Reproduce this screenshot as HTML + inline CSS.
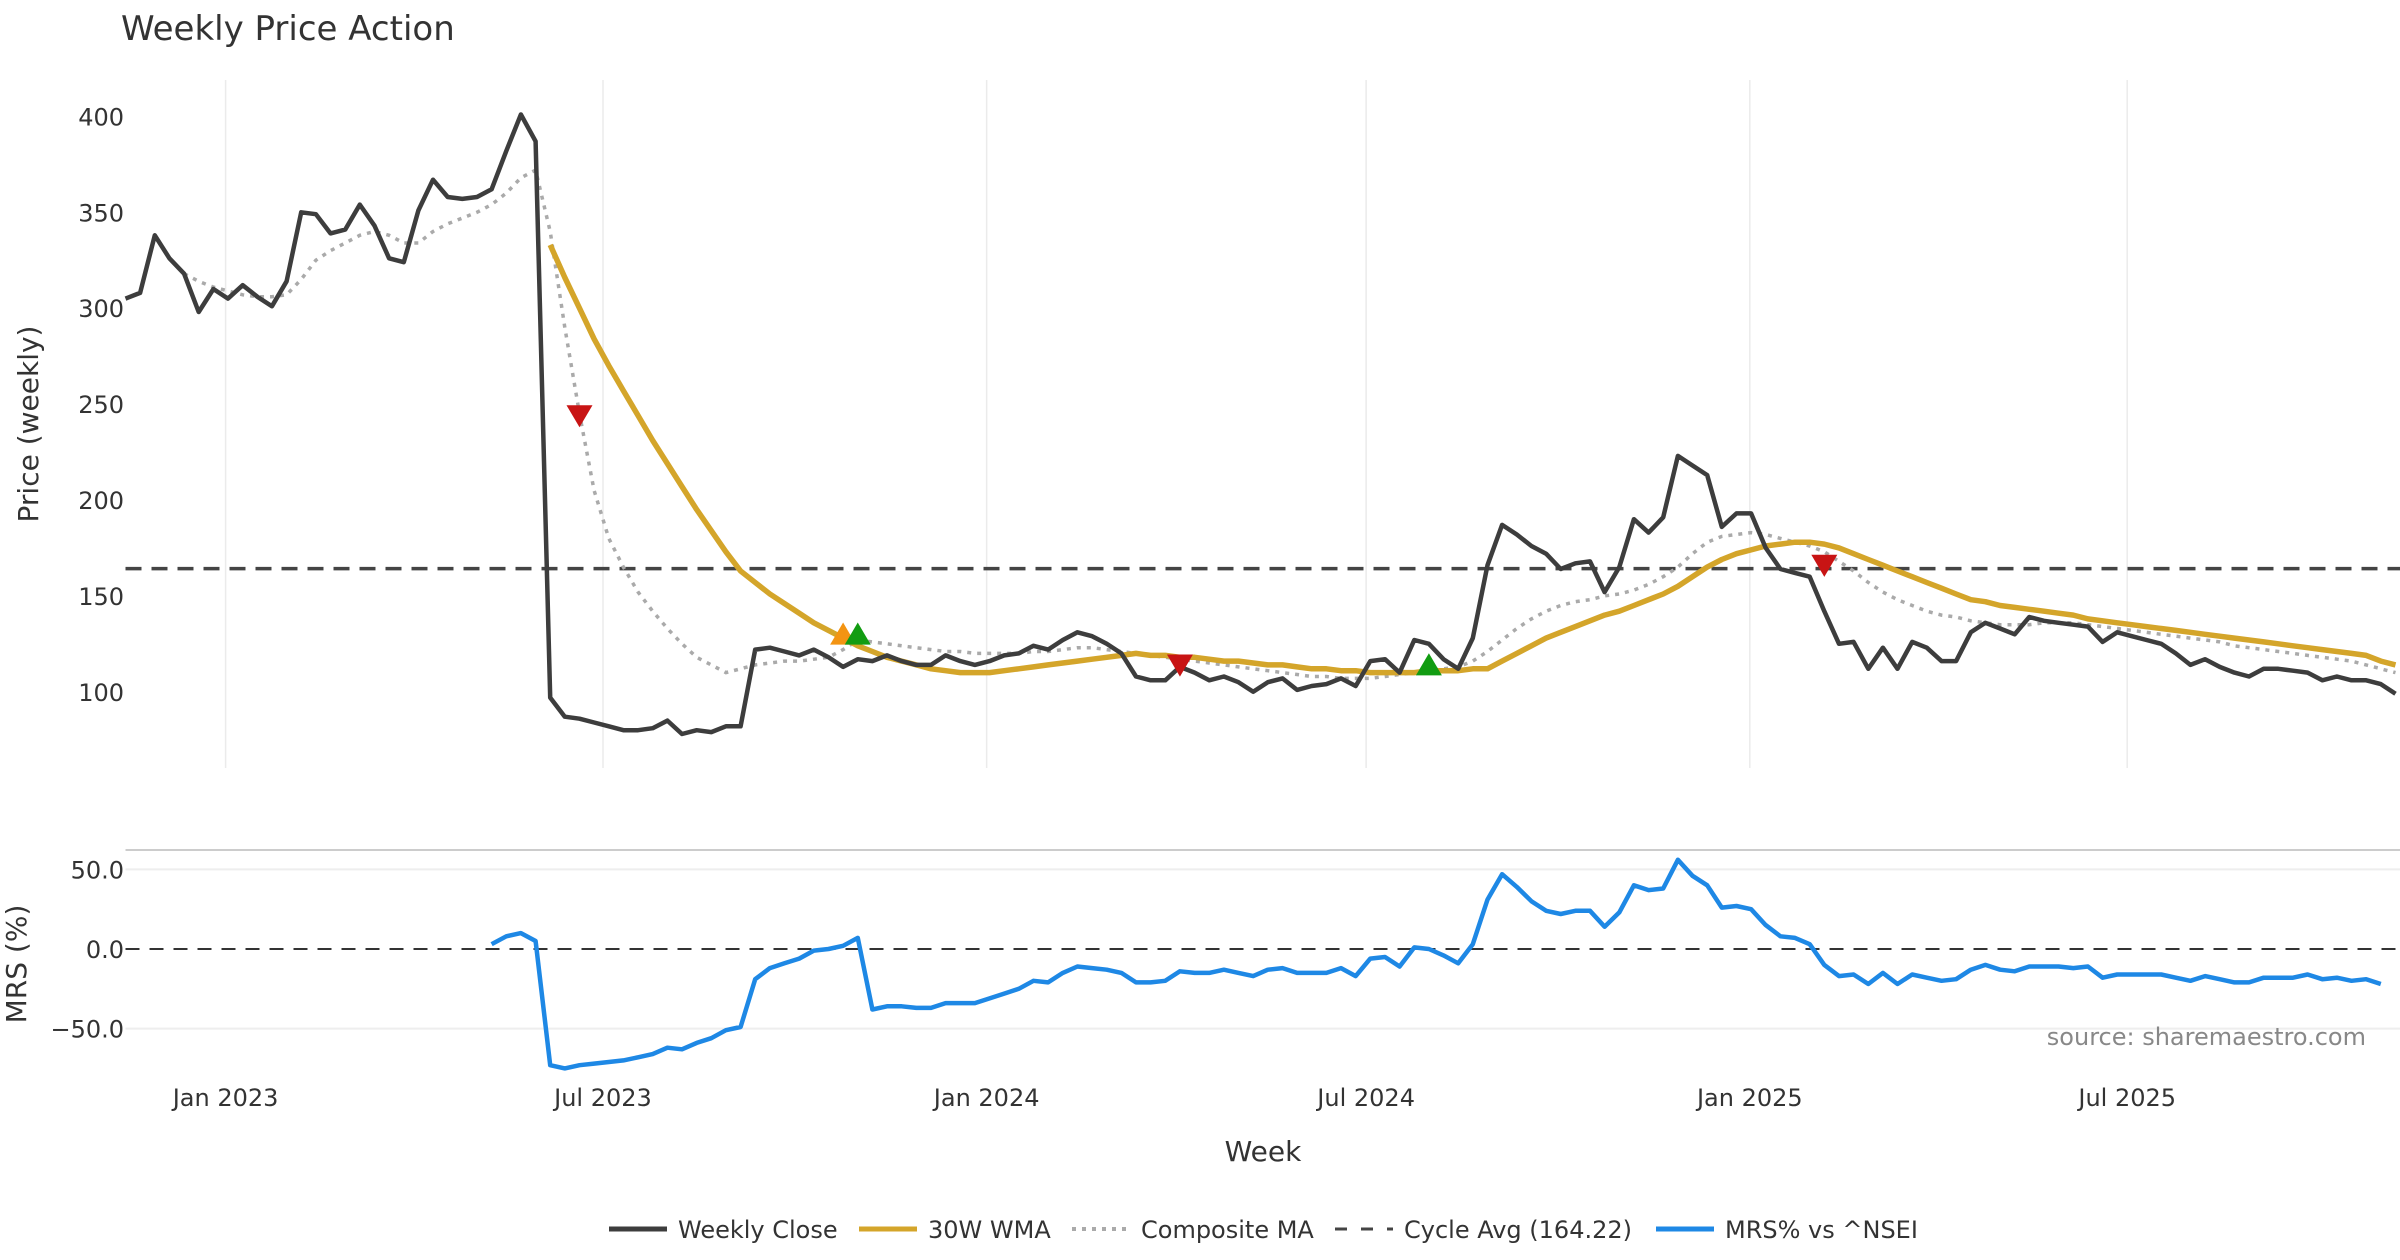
<!DOCTYPE html>
<html><head><meta charset="utf-8"><style>
html,body{margin:0;padding:0;background:#fff;}
svg{display:block;font-family:"DejaVu Sans","Liberation Sans",sans-serif;}
</style></head><body>
<svg id="chart" width="2400" height="1260" viewBox="0 0 2400 1260" xmlns="http://www.w3.org/2000/svg">
<text x="121" y="40" font-size="34" fill="#333">Weekly Price Action</text>
<g id="grid"></g>
<g id="marks"></g>
<g id="axes"></g>
<text transform="translate(38,424) rotate(-90)" text-anchor="middle" font-size="28" fill="#333">Price (weekly)</text>
<text transform="translate(26,964) rotate(-90)" text-anchor="middle" font-size="28" fill="#333">MRS (%)</text>
<text x="1263" y="1161" text-anchor="middle" font-size="28" fill="#333">Week</text>
<text x="2366" y="1045" text-anchor="end" font-size="24" fill="#888">source: sharemaestro.com</text>
<g id="legend"></g>
</svg>
<script>
const startDate = "2022-11-14";
const closeVals = [305,308,338,326,318,298,310,305,312,306,
301,314,350,349,339,341,354,343,326,324,
351,367,358,357,358,362,382,401,387,97,
87,86,84,82,80,80,81,85,78,80,
79,82,82,122,123,121,119,122,118,113,
117,116,119,116,114,114,119,116,114,116,
119,120,124,122,127,131,129,125,120,108,
106,106,113,110,106,108,105,100,105,107,
101,103,104,107,103,116,117,110,127,125,
117,112,128,166,187,182,176,172,164,167,
168,152,165,190,183,191,223,218,213,186,
193,193,175,164,162,160,142,125,126,112,
123,112,126,123,116,116,131,136,133,130,
139,137,136,135,134,126,131,129,127,125,
120,114,117,113,110,108,112,112,111,110,
106,108,106,106,104,99];
const wmaVals = [null,null,null,null,null,null,null,null,null,null,
null,null,null,null,null,null,null,null,null,null,
null,null,null,null,null,null,null,null,null,333,
316,300,284,270,257,244,231,219,207,195,
184,173,163,157,151,146,141,136,132,128,
124,121,118,116,114,112,111,110,110,110,
111,112,113,114,115,116,117,118,119,120,
119,119,118,118,117,116,116,115,114,114,
113,112,112,111,111,110,110,110,110,111,
111,111,112,112,116,120,124,128,131,134,
137,140,142,145,148,151,155,160,165,169,
172,174,176,177,178,178,177,175,172,169,
166,163,160,157,154,151,148,147,145,144,
143,142,141,140,138,137,136,135,134,133,
132,131,130,129,128,127,126,125,124,123,
122,121,120,119,116,114];
const compVals = [null,null,null,null,318,314,311,309,307,306,
306,307,315,325,330,334,338,340,338,334,
334,340,344,347,350,354,360,368,372,340,
290,245,205,180,165,152,142,133,125,118,
114,110,112,114,115,116,116,117,118,122,
127,126,125,124,123,122,121,121,120,120,
120,120,121,121,122,123,123,122,121,120,
119,118,117,116,115,114,113,112,111,110,
109,108,108,107,107,107,108,109,110,111,
112,113,116,121,127,133,138,142,145,147,
148,150,151,153,156,160,165,172,178,181,
182,183,182,180,178,176,173,168,163,157,
152,148,145,142,140,139,137,136,135,135,
135,136,136,136,135,134,133,132,131,130,
129,128,127,126,124,123,122,121,120,119,
118,117,116,114,112,110];
const mrsVals = [null,null,null,null,null,null,null,null,null,null,
null,null,null,null,null,null,null,null,null,null,
null,null,null,null,null,
3,8,10,5,-73,-75,-73,-72,-71,-70,
-68,-66,-62,-63,-59,-56,-51,-49,-19,-12,
-9,-6,-1,0,2,7,-38,-36,-36,-37,
-37,-34,-34,-34,-31,-28,-25,-20,-21,-15,
-11,-12,-13,-15,-21,-21,-20,-14,-15,-15,
-13,-15,-17,-13,-12,-15,-15,-15,-12,-17,
-6,-5,-11,1,0,-4,-9,3,31,47,
39,30,24,22,24,24,14,23,40,37,
38,56,46,40,26,27,25,15,8,7,
3,-10,-17,-16,-22,-15,-22,-16,-18,-20,
-19,-13,-10,-13,-14,-11,-11,-11,-12,-11,
-18,-16,-16,-16,-16,-18,-20,-17,-19,-21,
-21,-18,-18,-18,-16,-19,-18,-20,-19,-22];
const cycleAvg = 164.22;
const signalIdx = [31,49,50,72,89,116];
const signalVals = [244,130,130,114,114,166];
const signalTypes = ["sell","watch","buy","sell","buy","sell"];
const priceTicks = [100,150,200,250,300,350,400];
const mrsTicks = [-50,0,50];
const mrsTickLabels = ["\u221250.0","0.0","50.0"];
const xTickDates = ["2023-01-01","2023-07-01","2024-01-01","2024-07-01","2025-01-01","2025-07-01"];
const xTickLabels = ["Jan 2023","Jul 2023","Jan 2024","Jul 2024","Jan 2025","Jul 2025"];

const NS="http://www.w3.org/2000/svg";
const X0=125.5, PXDAY=2.0851, PXWEEK=14.645, L=125.5, R=2400;
const t0=Date.parse(startDate+"T00:00:00Z");
function xDate(s){return X0+(Date.parse(s+"T00:00:00Z")-t0)/86400000*PXDAY;}
function xIdx(i){return X0+i*PXWEEK;}
function yP(v){return 691.8-(v-100)*1.918;}
function yM(v){return 949-v*1.592;}
function mk(tag,attrs,parent){const e=document.createElementNS(NS,tag);for(const k in attrs)e.setAttribute(k,attrs[k]);parent.appendChild(e);return e;}
const grid=document.getElementById('grid'),marks=document.getElementById('marks'),axes=document.getElementById('axes');

xTickDates.forEach((d,k)=>{const x=xDate(d);
 const g=mk('line',{x1:x,x2:x,y1:80,y2:768,stroke:'#ebebeb','stroke-width':1.5},grid);
 
 
 const t=mk('text',{x:x,y:1106,'text-anchor':'middle','font-size':24,fill:'#333'},axes);
 t.textContent=xTickLabels[k];
 
 
});
priceTicks.forEach(v=>{const t=mk('text',{x:124,y:yP(v)+9,'text-anchor':'end','font-size':24,fill:'#333'},axes);
 t.textContent=v;
 
 
});
const bl=mk('line',{x1:L,x2:R,y1:850,y2:850,stroke:'#ccc','stroke-width':2},grid);


mrsTicks.forEach((v,k)=>{
 const ln=mk('line',{x1:L,x2:R,y1:yM(v),y2:yM(v),stroke:v===0?'#333':'#eeeeee','stroke-width':2,'stroke-dasharray':v===0?'14 10':'none'},grid);
 
 
 const t=mk('text',{x:124,y:yM(v)+9,'text-anchor':'end','font-size':24,fill:'#333'},axes);
 t.textContent=mrsTickLabels[k];
 
 
});
const ca=mk('line',{x1:L,x2:R,y1:yP(cycleAvg),y2:yP(cycleAvg),stroke:'#444','stroke-width':3.5,'stroke-dasharray':'16 10'},marks);



function path(vals,yf){let d='',pen=false;vals.forEach((v,i)=>{if(v===null){pen=false;return;}d+=(pen?'L':'M')+xIdx(i).toFixed(1)+','+yf(v).toFixed(1);pen=true;});return d;}
const comp=mk('path',{d:path(compVals,yP),fill:'none',stroke:'#aaaaaa','stroke-width':3.5,'stroke-dasharray':'4 6'},marks);


const wma=mk('path',{d:path(wmaVals,yP),fill:'none',stroke:'#d4a52a','stroke-width':5.5,'stroke-linejoin':'round'},marks);


const cl=mk('path',{d:path(closeVals,yP),fill:'none',stroke:'#3d3d3d','stroke-width':4.5,'stroke-linejoin':'round'},marks);


const mr=mk('path',{d:path(mrsVals,yM),fill:'none',stroke:'#1e88e5','stroke-width':4.5,'stroke-linejoin':'round'},marks);



signalIdx.forEach((ix,k)=>{const x=xIdx(ix),y=yP(signalVals[k]),s=13,tp=signalTypes[k];
 const pts=tp==='sell'?`${x-s},${y-s*0.8} ${x+s},${y-s*0.8} ${x},${y+s*0.9}`:`${x-s},${y+s*0.8} ${x+s},${y+s*0.8} ${x},${y-s*0.9}`;
 const col=tp==='sell'?'#c81414':(tp==='buy'?'#129c12':'#f39412');
 const p=mk('polygon',{points:pts,fill:col},marks);
 
 
});

const lg=document.getElementById('legend');
const items=[["Weekly Close",'#3d3d3d',5,'none',609],["30W WMA",'#d4a52a',5,'none',859],["Composite MA",'#aaaaaa',4,'4 6',1072],["Cycle Avg (164.22)",'#444',3,'12 14',1335],["MRS% vs ^NSEI",'#1e88e5',5,'none',1656]];
items.forEach(it=>{const g=mk('g',{},lg);
 
 
 mk('line',{x1:it[4],x2:it[4]+58,y1:1229,y2:1229,stroke:it[1],'stroke-width':it[2],'stroke-dasharray':it[3]},g);
 const t=mk('text',{x:it[4]+69,y:1238,'font-size':24,fill:'#333'},g);t.textContent=it[0];
});
</script>
</body></html>
